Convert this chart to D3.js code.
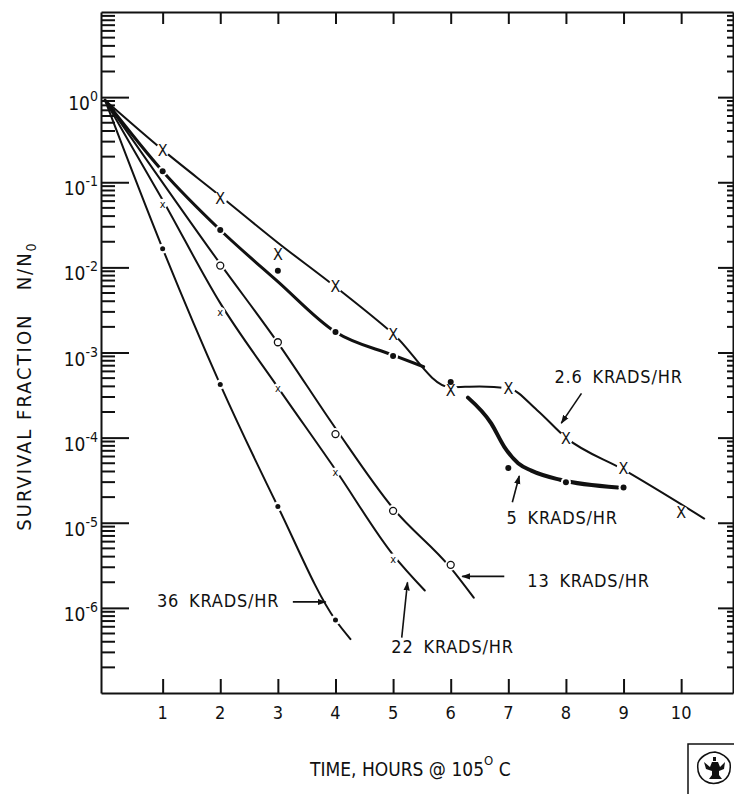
<!DOCTYPE html>
<html>
<head>
<meta charset="utf-8">
<title>Survival fraction</title>
<script src="https://d3js.org/d3.v7.min.js"></script>
<style>
  body { margin: 0; background: #fff; }
  text { font-family: "DejaVu Sans Condensed", "Liberation Sans Narrow", sans-serif; fill: #111; }
</style>
</head>
<body>
<script>
// tick values
var hours = [1, 2, 3, 4, 5, 6, 7, 8, 9, 10];

// measured points (hours, N/N0)
var pts26 = [[1, 0.24], [2, 0.065], [3, 0.0145], [4, 0.0060], [5, 0.00166], [6, 3.6e-4], [7, 3.8e-4], [8, 9.8e-5], [9, 4.4e-5], [10, 1.32e-5]];
var pts5 = [[1, 0.135], [2, 0.0275], [3, 0.0091], [4, 0.00174], [5, 9.1e-4], [6, 4.5e-4], [7, 4.4e-5], [8, 3.0e-5], [9, 2.6e-5]];
var pts13 = [[2, 0.0105], [3, 0.00132], [4, 1.1e-4], [5, 1.38e-5], [6, 3.2e-6]];
var pts22 = [[1, 0.056], [2, 0.0030], [3, 3.8e-4], [4, 3.9e-5], [5, 3.8e-6]];
var pts36 = [[1, 0.0166], [2, 4.2e-4], [3, 1.55e-5], [4, 7.2e-7]];

// drawn curves (hours, N/N0)
var curve26 = [[0, 0.92], [1, 0.24], [2, 0.069], [3, 0.0195], [4, 0.0059], [5, 0.00166], [6, 3.9e-4], [6.5, 4.0e-4], [7, 3.8e-4], [7.5, 2.1e-4], [8, 1.0e-4], [9, 4.2e-5], [10.4, 1.12e-5]];
var curve5a = [[0, 0.92], [1, 0.135], [2, 0.0275], [3, 0.0068], [4, 0.00174], [5, 9.3e-4], [5.53, 6.8e-4]];
var curve5b = [[6.3, 2.95e-4], [6.7, 1.48e-4], [6.93, 7.8e-5], [7.17, 5.0e-5], [7.4, 4.1e-5], [7.9, 3.2e-5], [8.9, 2.6e-5]];
var curve13 = [[0, 0.92], [2, 0.011], [3, 0.0013], [4, 1.29e-4], [5, 1.48e-5], [6, 2.95e-6], [6.4, 1.32e-6]];
var curve22 = [[0, 0.92], [1, 0.062], [2, 0.0038], [3, 3.9e-4], [4, 4.2e-5], [5, 4.2e-6], [5.55, 1.6e-6]];
var curve36 = [[0, 0.92], [1, 0.0166], [2, 4.2e-4], [3, 1.55e-5], [4, 7.2e-7], [4.26, 4.3e-7]];

var svg = d3.select("body").append("svg")
            .attr("width", 734)
            .attr("height", 794);

svg.append("defs").append("marker")
   .attr("id", "head")
   .attr("viewBox", "0 0 10 10")
   .attr("refX", 9).attr("refY", 5)
   .attr("markerWidth", 9).attr("markerHeight", 9)
   .attr("markerUnits", "userSpaceOnUse")
   .attr("orient", "auto")
   .append("path").attr("d", "M0,1.5 L10,5 L0,8.5 Z").attr("fill", "#111");

var x = d3.scaleLinear().domain([-0.07, 10.9]).range([101, 733]);
var y = d3.scaleLog().domain([1e-7, 10]).range([693, 12]);

var majors = d3.range(-6, 1).map(function(d) { return Math.pow(10, d); });
var minors = [];
d3.range(-7, 1).forEach(function(d) {
  for (var k = 2; k <= 9; k++) minors.push(k * Math.pow(10, d));
});

// minor log ticks, both sides
var ticksG = svg.append("g").attr("class", "minor");
ticksG.selectAll("line.l").data(minors).enter().append("line")
   .attr("class", "l")
   .attr("x1", 101).attr("x2", 115)
   .attr("y1", function(d) { return y(d); })
   .attr("y2", function(d) { return y(d); })
   .attr("stroke", "#111").attr("stroke-width", 2);
ticksG.selectAll("line.r").data(minors).enter().append("line")
   .attr("class", "r")
   .attr("x1", 733).attr("x2", 727)
   .attr("y1", function(d) { return y(d); })
   .attr("y2", function(d) { return y(d); })
   .attr("stroke", "#111").attr("stroke-width", 2);

function styleAxis(g) {
  g.selectAll("path, line").attr("stroke", "#111").attr("stroke-width", 2);
  g.selectAll("text").remove();
}

// frame + major ticks
svg.append("g").attr("transform", "translate(101,0)")
   .call(d3.axisRight(y).tickValues(majors).tickSize(28).tickSizeOuter(0)).call(styleAxis);
svg.append("g").attr("transform", "translate(733,0)")
   .call(d3.axisLeft(y).tickValues(majors).tickSize(15).tickSizeOuter(0)).call(styleAxis);
svg.append("g").attr("transform", "translate(0,693)")
   .call(d3.axisTop(x).tickValues(hours).tickSize(14).tickSizeOuter(0)).call(styleAxis);
svg.append("g").attr("transform", "translate(0,12)")
   .call(d3.axisBottom(x).tickValues(hours).tickSize(12).tickSizeOuter(0)).call(styleAxis);

// x tick labels
svg.selectAll(null).data(hours).enter().append("text")
   .attr("x", function(d) { return x(d); })
   .attr("y", 719)
   .attr("text-anchor", "middle")
   .attr("font-size", 18)
   .text(function(d) { return d; });

// y tick labels
var yl = svg.selectAll(null).data(majors).enter().append("text")
   .attr("x", 98)
   .attr("y", function(d) { return y(d) + 13; })
   .attr("text-anchor", "end")
   .attr("font-size", 19);
yl.append("tspan").text("10");
yl.append("tspan").attr("dy", -9).attr("font-size", 14)
  .text(function(d) { return Math.round(Math.log10(d)); });

// axis titles
var yt = svg.append("text")
   .attr("transform", "translate(31,386) rotate(-90)")
   .attr("text-anchor", "middle")
   .attr("font-size", 20)
   .attr("letter-spacing", 2);
yt.append("tspan").attr("xml:space", "preserve").text("SURVIVAL FRACTION   N/N");
yt.append("tspan").attr("dy", 5).attr("font-size", 14).text("0");

var xt = svg.append("text")
   .attr("x", 310).attr("y", 776)
   .attr("font-size", 19);
xt.append("tspan").text("TIME, HOURS @ 105");
xt.append("tspan").attr("dy", -11).attr("font-size", 13).text("O");
xt.append("tspan").attr("dy", 11).text(" C");

// curves
var line = d3.line()
   .x(function(d) { return x(d[0]); })
   .y(function(d) { return y(d[1]); })
   .curve(d3.curveMonotoneX);

var curves = [
  {pts: curve26, w: 2},
  {pts: curve5a, w: 3},
  {pts: curve5b, w: 4},
  {pts: curve13, w: 2},
  {pts: curve22, w: 2},
  {pts: curve36, w: 2}
];
svg.selectAll(null).data(curves).enter().append("path")
   .attr("d", function(d) { return line(d.pts); })
   .attr("fill", "none")
   .attr("stroke", "#111")
   .attr("stroke-width", function(d) { return d.w; })
   .attr("stroke-linecap", "round");

// gaps around points
var allPts = [
  {pts: pts26, gap: 7}, {pts: pts5, gap: 5}, {pts: pts13, gap: 6},
  {pts: pts22, gap: 5}, {pts: pts36, gap: 5}
];
allPts.forEach(function(s) {
  svg.selectAll(null).data(s.pts).enter().append("circle")
     .attr("cx", function(d) { return x(d[0]); })
     .attr("cy", function(d) { return y(d[1]); })
     .attr("r", s.gap)
     .attr("fill", "#fff");
});

// markers
svg.selectAll(null).data(pts26).enter().append("text")
   .attr("x", function(d) { return x(d[0]); })
   .attr("y", function(d) { return y(d[1]) + 6; })
   .attr("text-anchor", "middle")
   .attr("font-size", 16)
   .text("X");
svg.selectAll(null).data(pts22).enter().append("text")
   .attr("x", function(d) { return x(d[0]); })
   .attr("y", function(d) { return y(d[1]) + 4; })
   .attr("text-anchor", "middle")
   .attr("font-size", 11)
   .text("x");
svg.selectAll(null).data(pts5).enter().append("circle")
   .attr("cx", function(d) { return x(d[0]); })
   .attr("cy", function(d) { return y(d[1]); })
   .attr("r", 3)
   .attr("fill", "#111");
svg.selectAll(null).data(pts36).enter().append("circle")
   .attr("cx", function(d) { return x(d[0]); })
   .attr("cy", function(d) { return y(d[1]); })
   .attr("r", 2.5)
   .attr("fill", "#111");
svg.selectAll(null).data(pts13).enter().append("circle")
   .attr("cx", function(d) { return x(d[0]); })
   .attr("cy", function(d) { return y(d[1]); })
   .attr("r", 3.5)
   .attr("fill", "none")
   .attr("stroke", "#111")
   .attr("stroke-width", 1.3);

// labels with arrows, positions as [hours, log10 N/N0]
var notes = [
  {text: "2.6 KRADS/HR", at: [7.80, -3.36], from: [8.27, -3.48], to: [7.92, -3.83]},
  {text: "5 KRADS/HR", at: [6.97, -5.01], from: [7.07, -4.76], to: [7.19, -4.45]},
  {text: "13 KRADS/HR", at: [7.33, -5.76], from: [6.93, -5.63], to: [6.20, -5.63]},
  {text: "22 KRADS/HR", at: [4.97, -6.53], from: [5.15, -6.35], to: [5.25, -5.70]},
  {text: "36 KRADS/HR", at: [0.90, -5.99], from: [3.26, -5.93], to: [3.83, -5.93]}
];
function px(p) { return [x(p[0]), y(Math.pow(10, p[1]))]; }
svg.selectAll(null).data(notes).enter().append("text")
   .attr("x", function(d) { return px(d.at)[0]; })
   .attr("y", function(d) { return px(d.at)[1]; })
   .attr("font-size", 18)
   .attr("letter-spacing", 0.8)
   .attr("word-spacing", 4)
   .text(function(d) { return d.text; });
svg.selectAll(null).data(notes).enter().append("line")
   .attr("x1", function(d) { return px(d.from)[0]; })
   .attr("y1", function(d) { return px(d.from)[1]; })
   .attr("x2", function(d) { return px(d.to)[0]; })
   .attr("y2", function(d) { return px(d.to)[1]; })
   .attr("stroke", "#111")
   .attr("stroke-width", 1.6)
   .attr("marker-end", "url(#head)");

// emblem box
var logo = svg.append("g").attr("transform", "translate(688,744)");
logo.append("path").attr("d", "M0,50 V0 H46").attr("fill", "none").attr("stroke", "#111").attr("stroke-width", 1.5);
logo.append("path")
    .attr("d", "M27,8 C33,9 40,13 42,19 C43,26 41,33 35,37 C29,40 22,40 17,37 C11,33 9,26 10,19 C12,13 20,8 27,8 Z")
    .attr("fill", "none").attr("stroke", "#111").attr("stroke-width", 1.5);
logo.append("path")
    .attr("d", "M25,13 h3 v4 h-3 Z M16,18 L22,23 L24,18 L30,18 L32,23 L37,18 L36,25 L31,27 L31,31 L34,35 L21,35 L24,31 L24,27 L18,25 Z")
    .attr("fill", "#111");
</script>
</body>
</html>
